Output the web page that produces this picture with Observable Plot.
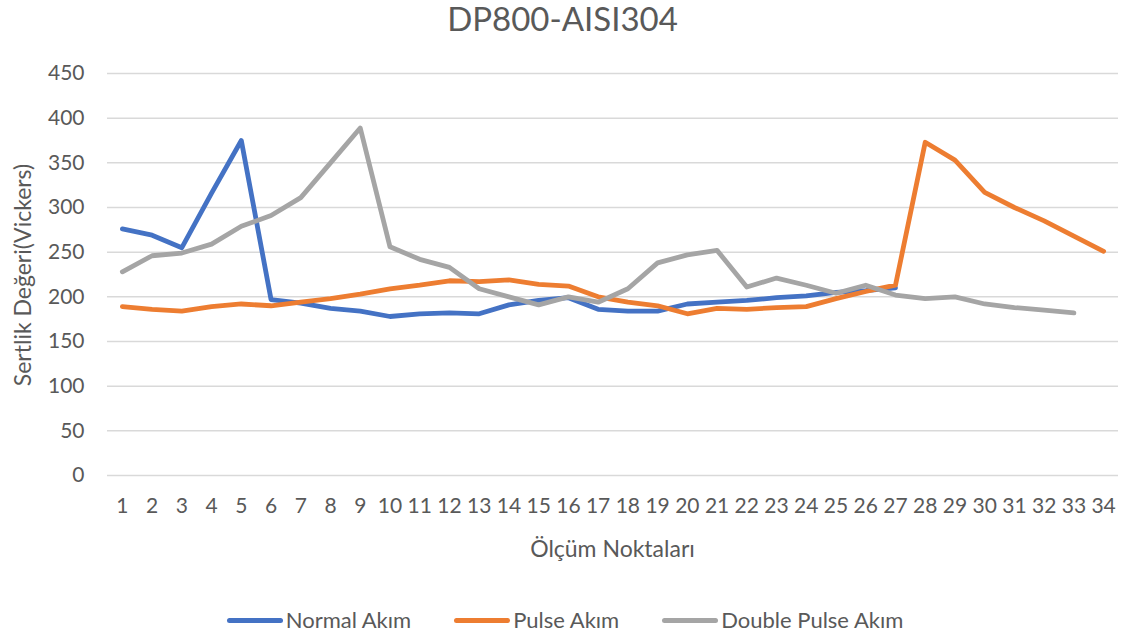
<!DOCTYPE html>
<html>
<head>
<meta charset="utf-8">
<script src="https://cdn.jsdelivr.net/npm/d3@7"></script>
<script src="https://cdn.jsdelivr.net/npm/@observablehq/plot@0.6"></script>
<style>
  html, body { margin: 0; padding: 0; background: #fff; }
  #wrap { position: relative; width: 1125px; height: 636px; font-family: Lato, "Open Sans", sans-serif; color: #595959; }
  #title { position: absolute; left: 0; width: 1125px; top: -2px; text-align: center; font-size: 33px; line-height: 40px; }
  #chart { position: absolute; left: 0; top: 0; }
  #ytitle { position: absolute; left: 22px; top: 275px; transform: translate(-50%, -50%) rotate(-90deg); font-size: 23px; white-space: nowrap; }
  #xtitle { position: absolute; left: 107px; width: 1011px; top: 533px; text-align: center; font-size: 23px; line-height: 30px; }
  #legend { position: absolute; left: 0; width: 1130px; top: 605px; display: flex; justify-content: center; gap: 43px; font-size: 22px; line-height: 30px; }
  .item { display: flex; align-items: center; }
  .swatch { width: 56px; height: 5px; border-radius: 3px; margin-right: 3px; }
</style>
</head>
<body>
<div id="wrap">
  <div id="title">DP800-AISI304</div>
  <div id="chart"></div>
  <div id="ytitle">Sertlik Değeri(Vickers)</div>
  <div id="xtitle">Ölçüm Noktaları</div>
  <div id="legend"></div>
</div>
<script>
// Hardness measurements (Vickers) at each measuring point
const points = d3.range(1, 35);
const seriesNames = ["Normal Akım", "Pulse Akım", "Double Pulse Akım"];
const seriesColors = ["#4472C4", "#ED7D31", "#A5A5A5"];

const normalAkim = [276, 269, 255, 316, 375, 197, 193, 187, 184, 178, 181, 182, 181, 191, 196, 199, 186, 184, 184, 192, 194, 196, 199, 201, 205, 207, 210];
const pulseAkim = [189, 186, 184, 189, 192, 190, 194, 198, 203, 209, 213, 218, 217, 219, 214, 212, 200, 194, 190, 181, 187, 186, 188, 189, 198, 206, 213, 373, 353, 317, 300, 285, 268, 251];
const doublePulseAkim = [228, 246, 249, 259, 279, 291, 311, 350, 389, 256, 242, 233, 209, 200, 191, 200, 194, 209, 238, 247, 252, 211, 221, 213, 204, 213, 202, 198, 200, 192, 188, 185, 182];

const yTicks = [0, 50, 100, 150, 200, 250, 300, 350, 400, 450];

const seriesValues = [normalAkim, pulseAkim, doublePulseAkim];
const rows = seriesValues.flatMap((vals, s) =>
  vals.map((v, i) => ({ point: points[i], value: v, series: seriesNames[s] }))
);

const plot = Plot.plot({
  width: 1125,
  height: 560,
  marginTop: 73,
  marginBottom: 85,
  marginLeft: 107,
  marginRight: 7,
  style: { fontFamily: "Lato, 'Open Sans', sans-serif", fontSize: "21px", color: "#595959", background: "transparent" },
  x: { type: "point", domain: points, padding: 0.5, round: false },
  y: { domain: [0, 450] },
  color: { domain: seriesNames, range: seriesColors },
  marks: [
    Plot.ruleY(yTicks, { stroke: "#D9D9D9", strokeWidth: 1.5 }),
    Plot.axisY({ ticks: yTicks, tickSize: 0, tickPadding: 23, label: null, fill: "#595959" }),
    Plot.axisX({ ticks: points, tickSize: 0, tickPadding: 23, label: null, fill: "#595959" }),
    Plot.line(rows, {
      x: "point", y: "value", z: "series", stroke: "series",
      strokeWidth: 4.8, strokeLinejoin: "round", strokeLinecap: "round"
    })
  ]
});
document.getElementById("chart").appendChild(plot);

// Legend
const legend = document.getElementById("legend");
seriesNames.forEach((name, i) => {
  const item = document.createElement("div");
  item.className = "item";
  const sw = document.createElement("span");
  sw.className = "swatch";
  sw.style.background = seriesColors[i];
  const label = document.createElement("span");
  label.textContent = name;
  item.appendChild(sw);
  item.appendChild(label);
  legend.appendChild(item);
});
</script>
</body>
</html>
